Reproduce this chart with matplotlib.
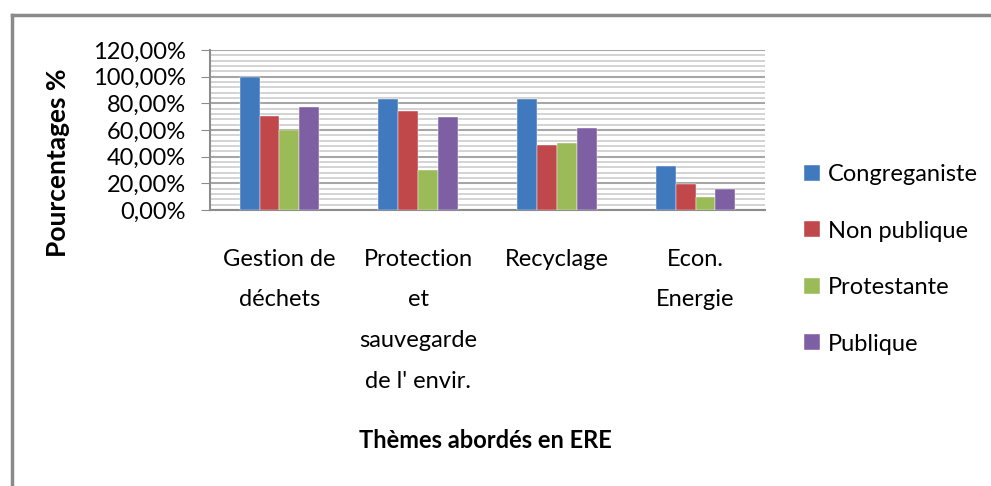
import matplotlib
matplotlib.use("Agg")
import matplotlib.pyplot as plt
from matplotlib.ticker import MultipleLocator, FuncFormatter
from matplotlib.lines import Line2D
import numpy as np

# donnees
themes = ["Gestion de\ndéchets", "Protection\net\nsauvegarde\nde l' envir.", "Recyclage", "Econ.\nEnergie"]
series = ["Congreganiste", "Non publique", "Protestante", "Publique"]
congreganiste = [100.0, 83.3, 83.3, 33.3]
non_publique = [70.6, 74.4, 48.7, 19.2]
protestante = [60.0, 30.0, 50.0, 10.0]
publique = [77.6, 69.6, 61.5, 15.4]
couleurs = ["#4079BE", "#C0474A", "#9BBB59", "#7F5FA3"]

plt.rcParams['font.family'] = ['Lato', 'DejaVu Sans']

W, H = 991, 486
fig = plt.figure(figsize=(W / 100, H / 100), dpi=100)

# cadre gris du graphique
fig.add_artist(Line2D([12 / W, 12 / W], [0, 1 - 15 / H], color="#8a8a8a", lw=2.5, transform=fig.transFigure))
fig.add_artist(Line2D([12 / W, 1], [1 - 15 / H, 1 - 15 / H], color="#8a8a8a", lw=2.5, transform=fig.transFigure))

ax = fig.add_axes([210 / W, 1 - 210 / H, 555 / W, 160 / H])

x = np.arange(len(themes))
w = 0.143
for i, (vals, nom) in enumerate(zip([congreganiste, non_publique, protestante, publique], series)):
    ax.bar(x + (i - 1.5) * w, vals, w, color=couleurs[i], label=nom, zorder=3,
           edgecolor="white", linewidth=0.3)

ax.set_xlim(-0.5, 3.5)
ax.set_ylim(0, 120)
ax.yaxis.set_major_locator(MultipleLocator(20))
ax.yaxis.set_minor_locator(MultipleLocator(4))
ax.yaxis.set_major_formatter(FuncFormatter(lambda v, p: f"{v:.2f}%".replace(".", ",")))
ax.grid(axis="y", which="major", color="#a6a6a6", lw=1.5, zorder=0)
ax.grid(axis="y", which="minor", color="#d0d0d0", lw=1.3, zorder=0)
ax.tick_params(axis="y", which="major", length=6.5, color="#8c8c8c", labelsize=17, pad=11)
ax.tick_params(axis="y", which="minor", length=0)
ax.tick_params(axis="x", length=0, labelsize=17, pad=28)
ax.set_xticks(x)
ax.set_xticklabels(themes, linespacing=2.15, va="top")
for s in ["top", "right"]:
    ax.spines[s].set_visible(False)
ax.spines["left"].set_color("#8c8c8c")
ax.spines["bottom"].set_color("#8c8c8c")
ax.spines["left"].set_linewidth(1.5)
ax.spines["bottom"].set_linewidth(1.5)

fig.text(58 / W, 1 - 163 / H, "Pourcentages %", rotation=90, ha="center", va="center",
         fontsize=19, fontweight="bold")
fig.text(485 / W, 1 - 440 / H, "Thèmes abordés en ERE", ha="center", va="center",
         fontsize=17, fontweight="bold")

ax.legend(loc="upper left", bbox_to_anchor=(783 / W, 1 - 143 / H), bbox_transform=fig.transFigure,
          frameon=False, fontsize=17, handlelength=0.65, handleheight=0.65, handletextpad=0.35,
          labelspacing=1.5)

fig.savefig("out.png", dpi=100)
